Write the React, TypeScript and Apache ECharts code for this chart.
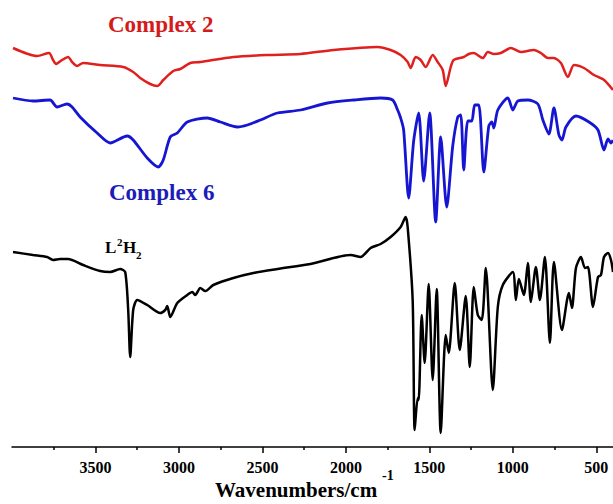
import React, { useEffect, useRef } from "react";
import * as echarts from "echarts";

// [wavenumber (cm-1), relative transmittance offset]
const complex2: number[][] = [
  [3994, 399], [3850, 391], [3778, 394], [3754, 387], [3736, 383], [3700, 387], [3664, 390],
  [3640, 385], [3610, 381], [3574, 384], [3472, 382], [3334, 380], [3274, 375], [3232, 369],
  [3172, 363], [3130, 361], [3094, 367], [3034, 376], [2992, 378], [2932, 384], [2872, 385],
  [2674, 390], [2470, 392], [2272, 393], [2074, 397], [1810, 400], [1732, 397], [1672, 392],
  [1630, 385], [1612, 379], [1582, 390], [1552, 387], [1522, 380], [1480, 392], [1450, 385],
  [1420, 377], [1402, 361], [1372, 380], [1354, 387], [1294, 390], [1264, 393], [1234, 394],
  [1180, 389], [1150, 395], [1114, 393], [1072, 394], [1012, 399], [952, 395], [874, 397],
  [832, 394], [790, 389], [754, 389], [712, 384], [670, 370], [634, 382], [574, 379],
  [514, 372], [454, 367], [400, 357],
];

const complex6: number[][] = [
  [3994, 349], [3874, 346], [3772, 347], [3730, 340], [3670, 343], [3640, 340], [3592, 330],
  [3490, 314], [3412, 304], [3310, 311], [3274, 307], [3190, 289], [3124, 280], [3094, 287],
  [3052, 310], [3010, 314], [2950, 325], [2830, 329], [2752, 325], [2650, 320], [2590, 322],
  [2512, 327], [2410, 334], [2272, 337], [2110, 344], [1954, 347], [1792, 349], [1720, 347],
  [1690, 337], [1672, 329], [1654, 317], [1624, 249], [1594, 306], [1564, 334], [1534, 266],
  [1498, 334], [1462, 225], [1432, 310], [1396, 240], [1360, 301], [1330, 330], [1312, 332],
  [1294, 277], [1270, 326], [1246, 326], [1228, 342], [1204, 342], [1174, 275], [1144, 321],
  [1126, 325], [1114, 319], [1090, 337], [1030, 349], [1000, 337], [970, 346], [910, 347],
  [850, 343], [820, 327], [784, 313], [754, 339], [724, 312], [706, 307], [682, 320],
  [622, 331], [544, 325], [490, 317], [454, 297], [430, 308], [412, 304], [400, 307],
];

const ligand: number[][] = [
  [3994, 195], [3874, 192], [3790, 190], [3754, 187], [3712, 188], [3664, 188], [3574, 182],
  [3472, 176], [3412, 175], [3352, 178], [3322, 175], [3304, 137], [3292, 90], [3274, 137],
  [3250, 147], [3190, 142], [3112, 134], [3082, 137], [3070, 141], [3052, 130], [3010, 144],
  [2950, 152], [2920, 155], [2902, 152], [2872, 159], [2842, 156], [2794, 162], [2674, 169],
  [2554, 174], [2410, 178], [2212, 183], [1972, 192], [1912, 190], [1852, 199], [1792, 203],
  [1732, 210], [1672, 220], [1642, 230], [1630, 220], [1600, 147], [1588, 17], [1570, 49],
  [1564, 47], [1546, 132], [1528, 84], [1504, 163], [1480, 67], [1456, 158], [1432, 14],
  [1402, 112], [1384, 94], [1348, 164], [1318, 97], [1282, 151], [1258, 80], [1234, 160],
  [1210, 132], [1186, 127], [1162, 179], [1120, 57], [1090, 140], [1060, 162], [1000, 175],
  [982, 147], [964, 168], [934, 152], [910, 184], [892, 145], [862, 180], [838, 147],
  [808, 190], [778, 104], [754, 185], [706, 117], [664, 154], [646, 139], [622, 179],
  [592, 190], [568, 179], [550, 180], [520, 140], [490, 170], [472, 172], [454, 190],
  [430, 194], [412, 187], [400, 175],
];

const majorTicks = [500, 1000, 1500, 2000, 2500, 3000, 3500];
const minorTicks = [750, 1250, 1750, 2250, 2750, 3250, 3750];

const SERIF = "'Liberation Serif', 'Times New Roman', serif";

export default function App() {
  const ref = useRef<HTMLDivElement>(null);
  useEffect(() => {
    if (!ref.current) return;
    const chart = echarts.init(ref.current, null, { renderer: "svg" });
    const baseX = {
      type: "value" as const,
      min: 400,
      max: 4000,
      inverse: true,
      position: "bottom" as const,
      splitLine: { show: false },
    };
    chart.setOption({
      animation: false,
      grid: { left: 12, right: 0, top: 0, bottom: 57, containLabel: false },
      xAxis: [
        {
          ...baseX,
          axisLine: { show: true, lineStyle: { color: "#000", width: 1.5 } },
          axisTick: { show: true, customValues: majorTicks, length: 6, inside: false, lineStyle: { color: "#000", width: 1.5 } },
          axisLabel: {
            show: true,
            customValues: majorTicks,
            formatter: (v: number) => String(v),
            margin: 12,
            color: "#000",
            fontFamily: SERIF,
            fontWeight: "bold",
            fontSize: 16,
          },
        },
        {
          ...baseX,
          axisLine: { show: false },
          axisTick: { show: true, customValues: minorTicks, length: 3, inside: false, lineStyle: { color: "#000", width: 1.5 } },
          axisLabel: { show: false },
        },
      ],
      yAxis: { type: "value", min: 0, max: 447, show: false },
      series: [
        {
          name: "Complex 2",
          type: "line",
          data: complex2,
          showSymbol: false,
          smooth: 0.25,
          lineStyle: { color: "#e0201e", width: 2.5 },
        },
        {
          name: "Complex 6",
          type: "line",
          data: complex6,
          showSymbol: false,
          smooth: 0.25,
          lineStyle: { color: "#1515d2", width: 2.8 },
        },
        {
          name: "L2H2",
          type: "line",
          data: ligand,
          showSymbol: false,
          smooth: 0.25,
          lineStyle: { color: "#000", width: 2.5 },
        },
      ],
      graphic: [
        { type: "text", left: 108, top: 13, style: { text: "Complex 2", fill: "#d41b1b", font: `bold 23px ${SERIF}` } },
        { type: "text", left: 109, top: 181, style: { text: "Complex 6", fill: "#1c1cb8", font: `bold 23px ${SERIF}` } },
        { type: "text", left: 105, top: 239, style: { text: "L", fill: "#000", font: `bold 17px ${SERIF}` } },
        { type: "text", left: 117, top: 236, style: { text: "2", fill: "#000", font: `bold 11px ${SERIF}` } },
        { type: "text", left: 123, top: 239, style: { text: "H", fill: "#000", font: `bold 17px ${SERIF}` } },
        { type: "text", left: 136, top: 249, style: { text: "2", fill: "#000", font: `bold 11px ${SERIF}` } },
        { type: "text", left: 215, top: 479, style: { text: "Wavenumbers/cm", fill: "#000", font: `bold 21px ${SERIF}` } },
        { type: "text", left: 382, top: 468, style: { text: "-1", fill: "#000", font: `bold 14px ${SERIF}` } },
      ],
    });
    return () => chart.dispose();
  }, []);
  return (
    <div
      ref={ref}
      style={{ position: "fixed", left: 0, top: 0, width: 613, height: 504, background: "#fff" }}
    />
  );
}
